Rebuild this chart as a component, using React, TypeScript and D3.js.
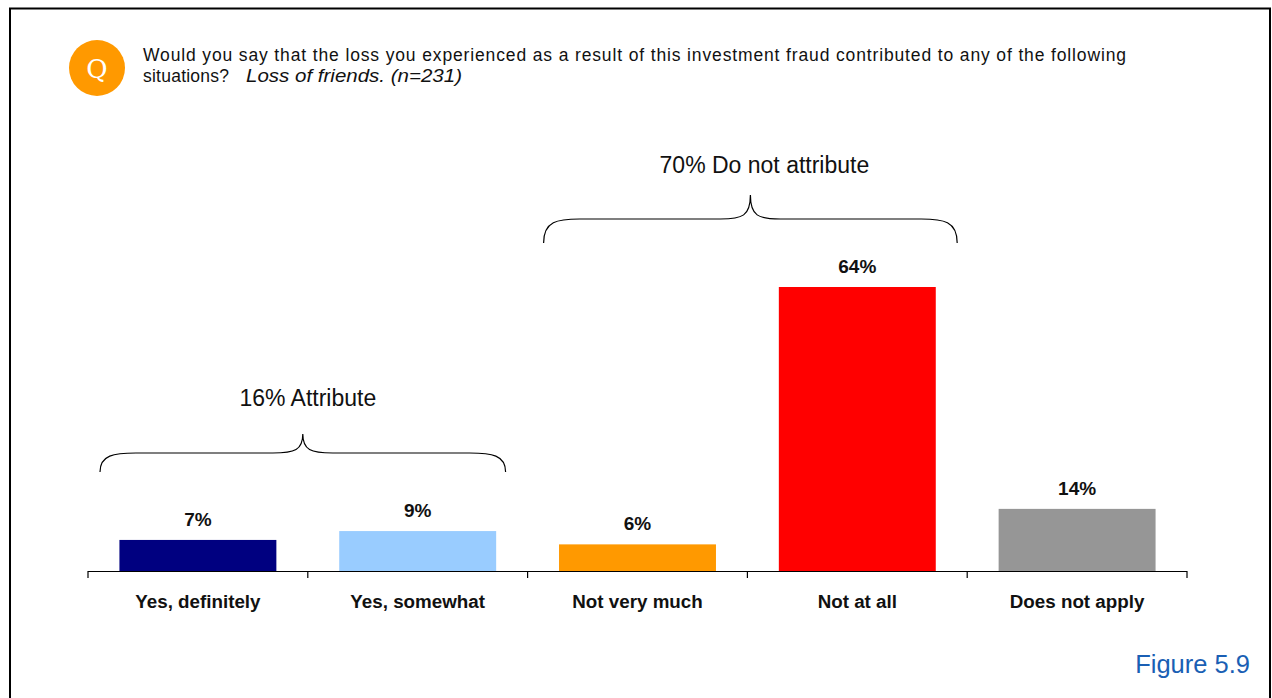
import React from "react";
import * as d3 from "d3";

const categories = ["Yes, definitely", "Yes, somewhat", "Not very much", "Not at all", "Does not apply"];
const values = [7, 9, 6, 64, 14];
const barColors = ["#000080", "#99ccff", "#ff9900", "#ff0000", "#969696"];
const groupLabels = ["16% Attribute", "70% Do not attribute"];
const groupSpans = [[0, 1], [2, 3]];
const questionLines = [
  "Would you say that the loss you experienced as a result of this investment fraud contributed to any of the following",
  "situations?",
];
const questionItalic = "Loss of friends. (n=231)";
const figureLabel = "Figure 5.9";

const W = 1272;
const H = 698;
const FONT = "'Liberation Sans', Arial, Helvetica, sans-serif";

function bracePath(x1: number, x2: number, yEnd: number, yLine: number, yTip: number) {
  const cx = (x1 + x2) / 2;
  const r = 36;
  const rr = 30;
  return [
    `M${x1},${yEnd}`,
    `C${x1},${yLine + 2} ${x1 + 14},${yLine} ${x1 + r},${yLine}`,
    `L${cx - rr},${yLine}`,
    `C${cx - 8},${yLine} ${cx},${yLine - 3} ${cx},${yTip}`,
    `C${cx},${yLine - 3} ${cx + 8},${yLine} ${cx + rr},${yLine}`,
    `L${x2 - r},${yLine}`,
    `C${x2 - 14},${yLine} ${x2},${yLine + 2} ${x2},${yEnd}`,
  ].join(" ");
}

export default function App() {
  const x = d3.scaleBand<string>().domain(categories).range([88, 1187]).paddingInner(0.286).paddingOuter(0.143);
  const baseY = 571;
  const y = d3.scaleLinear().domain([0, 64]).range([baseY, 287]);
  const step = x.step();
  const bandStarts = categories.map((_, i) => 88 + i * step);
  const tickXs = d3.range(categories.length + 1).map((i) => 88 + i * step);

  const braceCfg = [
    { insetL: 12, insetR: 22, yEnd: 472, yLine: 453, yTip: 434, labelY: 406, labelDx: 5 },
    { insetL: 16, insetR: 10, yEnd: 243, yLine: 219, yTip: 195, labelY: 173, labelDx: 14 },
  ];

  return (
    <svg width={W} height={H} style={{ position: "absolute", left: 0, top: 0, background: "#fff" }} fontFamily={FONT}>
      <rect x={10} y={8.5} width={1260} height={H + 10} fill="#fff" stroke="#000" strokeWidth={2} />
      <circle cx={97} cy={68} r={28} fill="#ff9900" />
      <text x={97} y={78} textAnchor="middle" fill="#fff" fontFamily="'DejaVu Serif', 'Liberation Serif', serif" fontSize={26}>
        Q
      </text>
      <text x={143} y={61} fontSize={17.5} fill="#111" textLength={983} lengthAdjust="spacing">
        {questionLines[0]}
      </text>
      <text x={143} y={82} fontSize={17.5} fill="#111" textLength={86} lengthAdjust="spacing">
        {questionLines[1]}
      </text>
      <text x={246} y={82} fontSize={17.5} fill="#111" fontStyle="italic" textLength={216} lengthAdjust="spacingAndGlyphs">
        {questionItalic}
      </text>

      {groupSpans.map((span, gi) => {
        const c = braceCfg[gi];
        const x1 = bandStarts[span[0]] + c.insetL;
        const x2 = bandStarts[span[1]] + step - c.insetR;
        return (
          <g key={gi}>
            <path d={bracePath(x1, x2, c.yEnd, c.yLine, c.yTip)} fill="none" stroke="#000" strokeWidth={1.2} />
            <text x={(x1 + x2) / 2 + c.labelDx} y={c.labelY} textAnchor="middle" fontSize={23} fill="#111">
              {groupLabels[gi]}
            </text>
          </g>
        );
      })}

      {categories.map((c, i) => (
        <g key={c}>
          <rect x={x(c)!} y={y(values[i])} width={x.bandwidth()} height={baseY - y(values[i])} fill={barColors[i]} />
          <text x={x(c)! + x.bandwidth() / 2} y={y(values[i]) - 14} textAnchor="middle" fontWeight="bold" fontSize={19} fill="#111">
            {values[i]}%
          </text>
          <text x={bandStarts[i] + step / 2} y={608} textAnchor="middle" fontWeight="bold" fontSize={18.8} fill="#111">
            {c}
          </text>
        </g>
      ))}
      <line x1={88} x2={1187} y1={baseY + 0.5} y2={baseY + 0.5} stroke="#000" strokeWidth={1.2} />
      {tickXs.map((tx, i) => (
        <line key={i} x1={tx} x2={tx} y1={baseY} y2={baseY + 7} stroke="#000" strokeWidth={1.2} />
      ))}

      <text x={1250} y={673} textAnchor="end" fontSize={25.5} fill="#1a5fb4">
        {figureLabel}
      </text>
    </svg>
  );
}
